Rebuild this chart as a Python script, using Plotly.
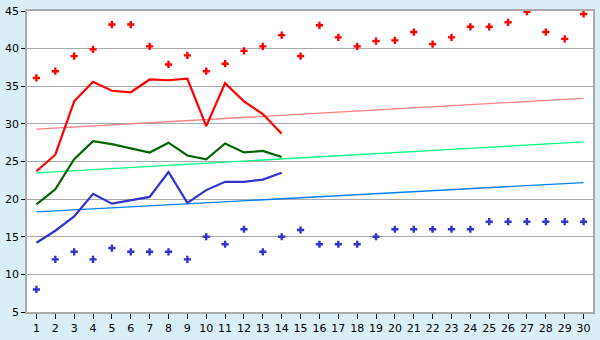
import plotly.graph_objects as go

days = list(range(1, 31))
max_points = [36.1, 37.0, 39.0, 39.9, 43.2, 43.2, 40.3, 37.9, 39.1, 37.0,
              38.0, 39.7, 40.3, 41.8, 39.0, 43.1, 41.5, 40.3, 41.0, 41.1,
              42.2, 40.6, 41.5, 42.9, 42.9, 43.5, 44.9, 42.2, 41.3, 44.6]
min_points = [8, 12, 13, 12, 13.5, 13, 13, 13, 12, 15,
              14, 16, 13, 15, 15.9, 14, 14, 14, 15, 16,
              16, 16, 16, 16, 17, 17, 17, 17, 17, 17]
days_obs = list(range(1, 15))
max_line = [23.7, 25.9, 33.0, 35.6, 34.4, 34.2, 35.9, 35.8, 36.0, 29.7, 35.4, 33.0, 31.3, 28.7]
mean_line = [19.3, 21.3, 25.3, 27.7, 27.3, 26.7, 26.2, 27.5, 25.8, 25.3, 27.4, 26.2, 26.4, 25.6]
min_line = [14.2, 15.8, 17.7, 20.7, 19.4, 19.8, 20.3, 23.6, 19.5, 21.2, 22.3, 22.3, 22.6, 23.5]
trend_x = [1, 30]
max_trend = [29.3, 33.4]
mean_trend = [23.5, 27.6]
min_trend = [18.3, 22.2]

fig = go.Figure()
fig.add_trace(go.Scatter(x=trend_x, y=max_trend, mode="lines", line=dict(color="#ff8080", width=1.3)))
fig.add_trace(go.Scatter(x=trend_x, y=mean_trend, mode="lines", line=dict(color="#00ff80", width=1.3)))
fig.add_trace(go.Scatter(x=trend_x, y=min_trend, mode="lines", line=dict(color="#0080ff", width=1.3)))
fig.add_trace(go.Scatter(x=days_obs, y=max_line, mode="lines", line=dict(color="#ff0000", width=2.2)))
fig.add_trace(go.Scatter(x=days_obs, y=mean_line, mode="lines", line=dict(color="#006400", width=2.2)))
fig.add_trace(go.Scatter(x=days_obs, y=min_line, mode="lines", line=dict(color="#3333cc", width=2.2)))
fig.add_trace(go.Scatter(x=days, y=max_points, mode="markers",
                         marker=dict(symbol="cross", size=6, color="#ff0000", line=dict(width=0))))
fig.add_trace(go.Scatter(x=days, y=min_points, mode="markers",
                         marker=dict(symbol="cross", size=6, color="#3333cc", line=dict(width=0))))

fig.update_layout(
    width=600, height=340,
    margin=dict(l=20, r=5, t=5, b=20),
    paper_bgcolor="#daeef5",
    plot_bgcolor="#ffffff",
    showlegend=False,
    font=dict(family="DejaVu Sans", size=11, color="#000000"),
)
fig.update_xaxes(
    range=[0.5, 30.5], tickvals=days, ticktext=[str(d) for d in days],
    showgrid=False, zeroline=False,
    showline=True, linecolor="#aaaaaa", linewidth=1.5, mirror=True,
    ticks="outside", ticklen=5, tickcolor="#000000", tickwidth=1,
    tickfont=dict(size=11),
)
fig.update_yaxes(
    range=[5, 45], tickvals=list(range(5, 50, 5)),
    showgrid=True, gridcolor="#aaaaaa", gridwidth=1, zeroline=False,
    showline=True, linecolor="#aaaaaa", linewidth=1.5, mirror=True,
    ticks="outside", ticklen=4, tickcolor="#000000", tickwidth=1,
    tickfont=dict(size=11),
)
fig.write_html("out.html")
